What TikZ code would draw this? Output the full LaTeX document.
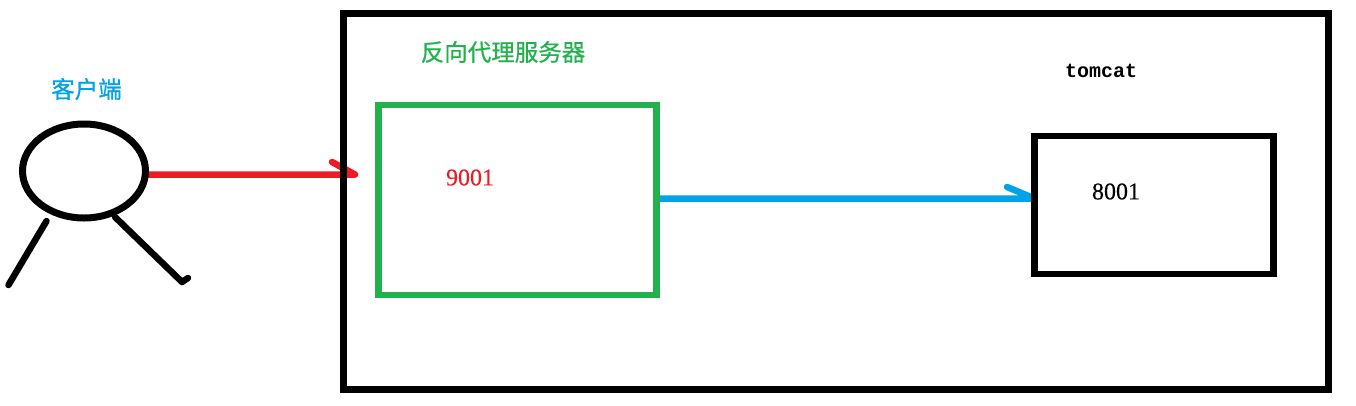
\documentclass[tikz,border=0pt]{standalone}
\usetikzlibrary{shapes.geometric,backgrounds}
\usepackage{fontspec}
\setmainfont{Liberation Serif}[FakeBold=0.25]
\newfontfamily\cjkfont{Noto Sans CJK SC}[FakeBold=0.6]
\newfontfamily\monofont{Liberation Mono}
\definecolor{pred}{HTML}{ED1C24}
\definecolor{pblue}{HTML}{00A2E8}
\definecolor{pgreen}{HTML}{22B14C}
\tikzset{
  boxnode/.style={draw,rectangle,inner sep=0pt,outer sep=0pt,line width=6.8pt,miter limit=10},
  limb/.style={draw=black,line width=6.5pt,line cap=round,line join=round},
  wire/.style={line width=6.5pt,line cap=round,line join=round},
  cjklabel/.style={inner sep=0pt,font=\cjkfont\fontsize{23.5}{24}\selectfont},
  numlabel/.style={inner sep=0pt,font=\fontsize{24}{24}\selectfont},
  monolabel/.style={inner sep=0pt,font=\monofont\bfseries\fontsize{20}{20}\selectfont}
}
\begin{document}
\begin{tikzpicture}[x=1pt,y=-1pt]
\useasboundingbox (0,0) rectangle (1356,405);
% named free ends
\coordinate (redend) at (355,174.5);
\coordinate (redhead) at (332,162);
\coordinate (bluelevel) at (800,198.5);
\coordinate (bluehead) at (1007,187);
\coordinate (lefthip) at (46.5,221);
\coordinate (leftfoot) at (8.5,285);
\coordinate (righthip) at (115,217);
\coordinate (rightfoot) at (182,282);
\coordinate (righttoe) at (188,278);
% boxes
\node[boxnode,minimum width=985pt,minimum height=376pt] (outer) at (836,201.5) {};
\node[boxnode,draw=pgreen,minimum width=278.5pt,minimum height=190pt] (proxy) at (517.5,200) {};
\node[boxnode,minimum width=239pt,minimum height=138pt] (tomcatbox) at (1154,205) {};
\node[draw=black,line width=7pt,ellipse,inner sep=0pt,outer sep=0pt,minimum width=123pt,minimum height=94pt] (client) at (84,171) {};
% connectors, under the boxes
\begin{scope}[on background layer]
\fill[white] (0,0) rectangle (1356,405);
\draw[wire,pred] (client.east |- redend) -- (redend) (redhead) -- (redend);
\draw[wire,pblue] (proxy.east |- bluelevel) -- (tomcatbox.west |- bluelevel) (bluehead) -- (tomcatbox.west |- bluelevel);
\end{scope}
% limbs
\draw[limb] (lefthip) -- (leftfoot);
\draw[limb] (righthip) -- (rightfoot) -- (righttoe);
% labels
\node[cjklabel,text=pblue] (clientlabel) at (86.5,89) {客户端};
\node[cjklabel,text=pgreen] (proxylabel) at (503,52) {反向代理服务器};
\node[monolabel] (tomcatlabel) at (1101,71) {tomcat};
\node[numlabel,text=pred] (port9001) at (470,177.5) {9001};
\node[numlabel] (port8001) at (1116,191.5) {8001};
\end{tikzpicture}
\end{document}
